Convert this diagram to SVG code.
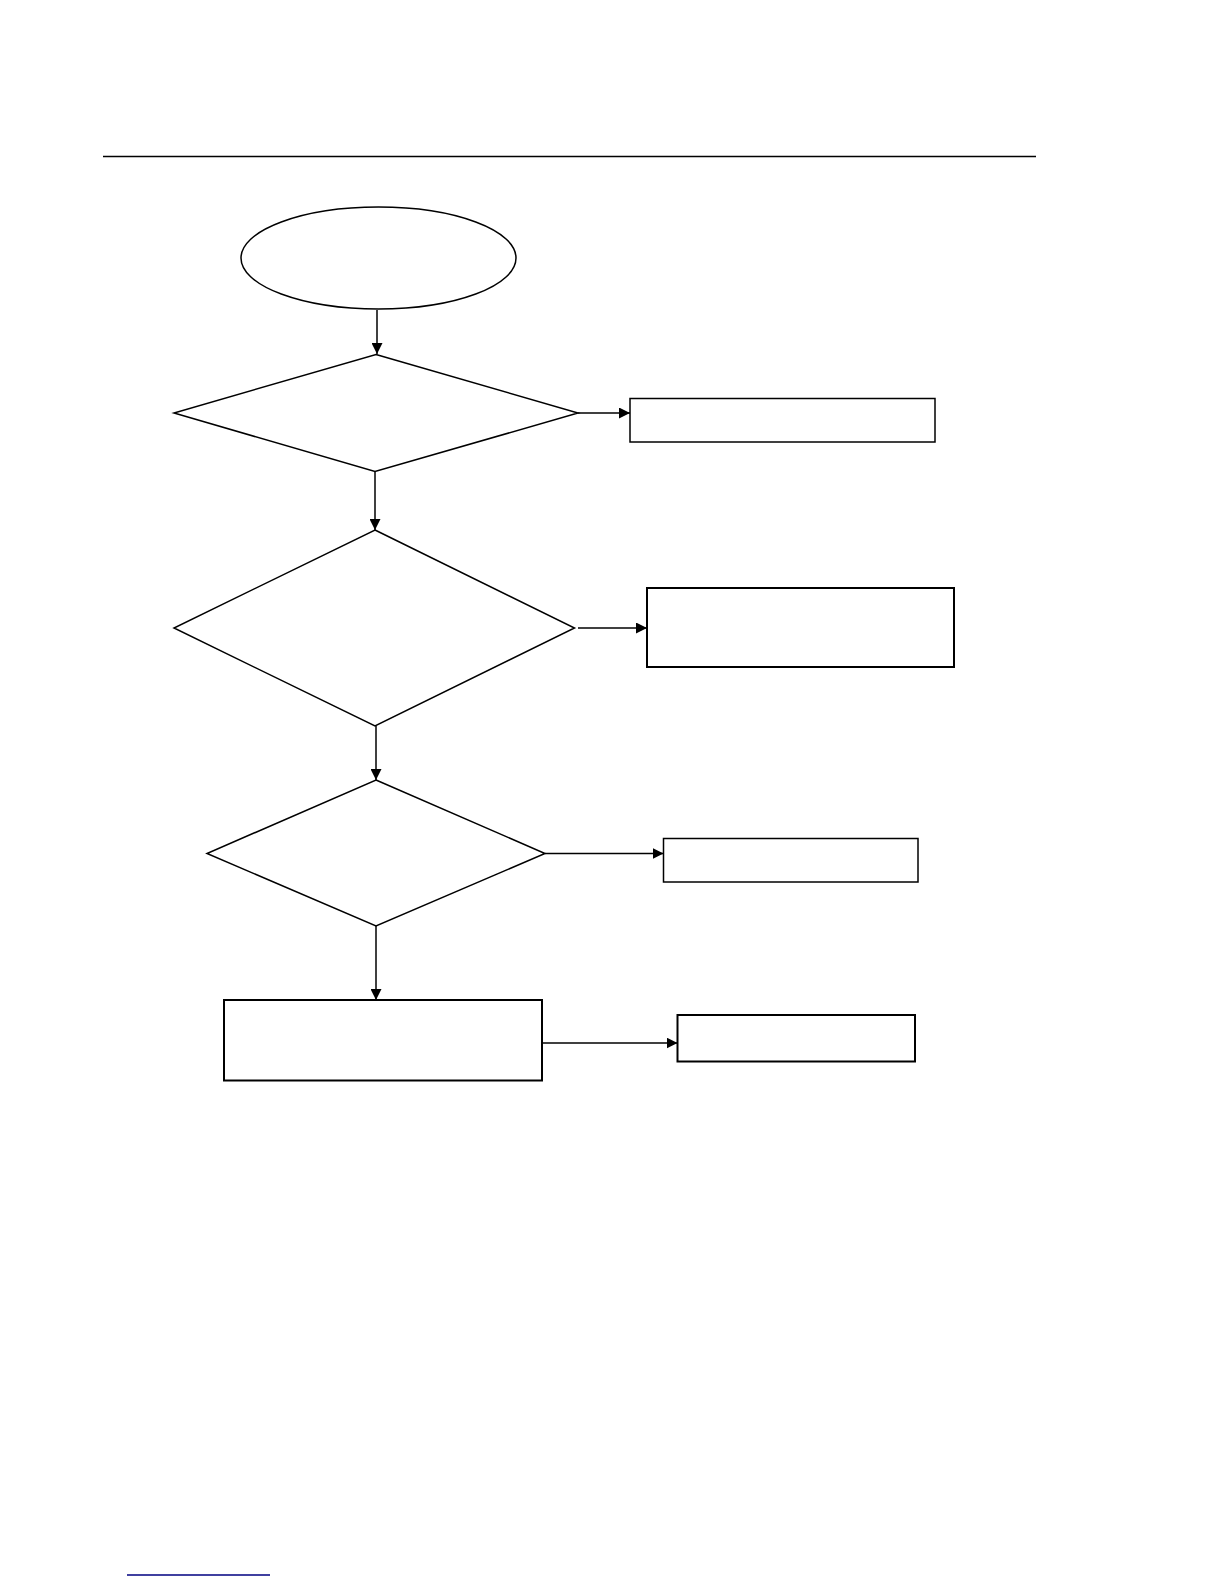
<svg xmlns="http://www.w3.org/2000/svg" width="1224" height="1584" viewBox="0 0 1224 1584">
  <style>
    .shape { fill: #ffffff; stroke: #000000; stroke-width: 1.5; }
    .thick { stroke-width: 2; }
    .conn { fill: none; stroke: #000000; stroke-width: 1.5; }
  </style>
  <defs>
    <marker id="arrow" viewBox="0 0 10 10" refX="10" refY="5" markerWidth="11" markerHeight="11" markerUnits="userSpaceOnUse" orient="auto">
      <path d="M0,0 L10,5 L0,10 Z" fill="#000000"/>
    </marker>
  </defs>
  <rect width="1224" height="1584" fill="#ffffff"/>
  <line x1="103" y1="156.5" x2="1036" y2="156.5" stroke="#000000" stroke-width="1.5"/>
  <line x1="127" y1="1575" x2="270" y2="1575" stroke="#000080" stroke-width="1.5"/>

  <g id="start">
    <ellipse class="shape" cx="378.5" cy="258" rx="137.5" ry="51"/>
  </g>
  <g id="decision1">
    <polygon class="shape" points="376,354.5 578,413 375,471.5 174,413"/>
  </g>
  <g id="box1">
    <rect class="shape" x="630" y="398.5" width="305" height="43.5"/>
  </g>
  <g id="decision2">
    <polygon class="shape" points="375,530 574.5,628 375,726 174,628"/>
  </g>
  <g id="box2">
    <rect class="shape thick" x="647" y="588" width="307" height="79"/>
  </g>
  <g id="decision3">
    <polygon class="shape" points="376,780 545,853.5 376,926 207,853.5"/>
  </g>
  <g id="box3">
    <rect class="shape" x="663.5" y="838.5" width="254.5" height="43.5"/>
  </g>
  <g id="box4">
    <rect class="shape thick" x="224" y="1000" width="318" height="80.5"/>
  </g>
  <g id="box5">
    <rect class="shape thick" x="677.5" y="1015" width="237.5" height="46.5"/>
  </g>

  <g id="connectors">
    <line class="conn" x1="377" y1="310" x2="377" y2="354" marker-end="url(#arrow)"/>
    <line class="conn" x1="578" y1="413" x2="630" y2="413" marker-end="url(#arrow)"/>
    <line class="conn" x1="375" y1="472" x2="375" y2="530" marker-end="url(#arrow)"/>
    <line class="conn" x1="578" y1="628" x2="647" y2="628" marker-end="url(#arrow)"/>
    <line class="conn" x1="376" y1="726" x2="376" y2="780" marker-end="url(#arrow)"/>
    <line class="conn" x1="545" y1="853.5" x2="663.5" y2="853.5" marker-end="url(#arrow)"/>
    <line class="conn" x1="376" y1="926" x2="376" y2="1000" marker-end="url(#arrow)"/>
    <line class="conn" x1="542" y1="1043" x2="677.5" y2="1043" marker-end="url(#arrow)"/>
  </g>
</svg>
